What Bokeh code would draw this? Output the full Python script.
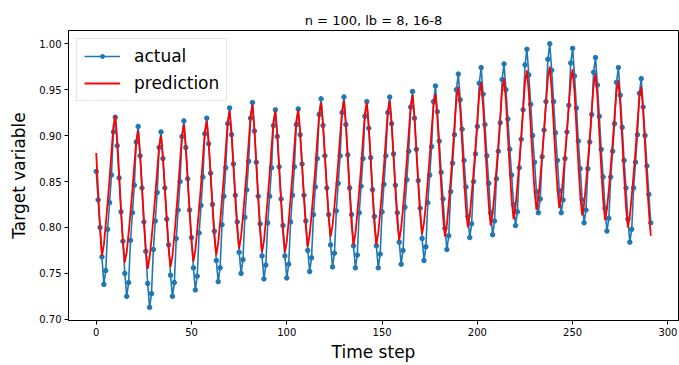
from bokeh.plotting import figure
from bokeh.models import Range1d, FixedTicker, PrintfTickFormatter
from bokeh.embed import file_html
from bokeh.resources import INLINE

title_text = "n = 100, lb = 8, 16-8"
x_label = "Time step"
y_label = "Target variable"
x_ticks = [0, 50, 100, 150, 200, 250, 300]
y_ticks = [0.70, 0.75, 0.80, 0.85, 0.90, 0.95, 1.00]

actual = [
    0.861, 0.830, 0.800, 0.768,
    0.738, 0.753, 0.798, 0.827, 0.857, 0.904, 0.920, 0.889, 0.854, 0.817, 0.785, 0.750,
    0.725, 0.740, 0.786, 0.816, 0.846, 0.893, 0.910, 0.878, 0.843, 0.806, 0.774, 0.739,
    0.713, 0.728, 0.776, 0.807, 0.838, 0.887, 0.904, 0.875, 0.843, 0.809, 0.781, 0.748,
    0.725, 0.740, 0.788, 0.819, 0.850, 0.899, 0.916, 0.887, 0.853, 0.819, 0.789, 0.756,
    0.732, 0.747, 0.794, 0.824, 0.855, 0.902, 0.919, 0.891, 0.859, 0.825, 0.796, 0.764,
    0.741, 0.756, 0.803, 0.834, 0.865, 0.913, 0.930, 0.901, 0.869, 0.835, 0.806, 0.773,
    0.750, 0.765, 0.811, 0.841, 0.872, 0.919, 0.936, 0.905, 0.871, 0.834, 0.804, 0.769,
    0.744, 0.759, 0.805, 0.834, 0.865, 0.911, 0.928, 0.899, 0.866, 0.831, 0.802, 0.769,
    0.745, 0.760, 0.806, 0.835, 0.866, 0.912, 0.929, 0.901, 0.869, 0.835, 0.807, 0.775,
    0.752, 0.767, 0.814, 0.844, 0.875, 0.923, 0.940, 0.911, 0.878, 0.843, 0.814, 0.781,
    0.757, 0.772, 0.818, 0.848, 0.878, 0.925, 0.942, 0.912, 0.879, 0.843, 0.814, 0.780,
    0.756, 0.770, 0.816, 0.845, 0.875, 0.921, 0.937, 0.908, 0.876, 0.841, 0.812, 0.780,
    0.756, 0.771, 0.817, 0.847, 0.878, 0.925, 0.942, 0.913, 0.880, 0.846, 0.816, 0.784,
    0.760, 0.775, 0.822, 0.852, 0.883, 0.931, 0.948, 0.919, 0.885, 0.851, 0.821, 0.788,
    0.764, 0.779, 0.827, 0.857, 0.888, 0.937, 0.954, 0.926, 0.894, 0.860, 0.831, 0.799,
    0.776, 0.791, 0.839, 0.870, 0.901, 0.950, 0.967, 0.939, 0.907, 0.873, 0.844, 0.812,
    0.789, 0.804, 0.850, 0.880, 0.910, 0.957, 0.974, 0.945, 0.912, 0.878, 0.848, 0.816,
    0.792, 0.807, 0.853, 0.883, 0.914, 0.961, 0.978, 0.950, 0.918, 0.885, 0.857, 0.825,
    0.802, 0.817, 0.865, 0.896, 0.928, 0.977, 0.994, 0.966, 0.934, 0.900, 0.871, 0.839,
    0.816, 0.831, 0.877, 0.906, 0.937, 0.983, 1.000, 0.971, 0.937, 0.903, 0.873, 0.840,
    0.816, 0.830, 0.875, 0.904, 0.933, 0.979, 0.995, 0.965, 0.930, 0.894, 0.864, 0.830,
    0.805, 0.819, 0.864, 0.893, 0.923, 0.969, 0.985, 0.955, 0.921, 0.885, 0.855, 0.821,
    0.796, 0.810, 0.855, 0.883, 0.913, 0.958, 0.974, 0.944, 0.909, 0.873, 0.843, 0.809,
    0.784, 0.798, 0.843, 0.871, 0.901, 0.946, 0.962, 0.931, 0.900, 0.867, 0.836, 0.805,
]

prediction = [
    0.881, 0.838, 0.800, 0.769,
    0.781, 0.803, 0.827, 0.853, 0.882, 0.910, 0.922, 0.896, 0.858, 0.820, 0.784, 0.762,
    0.773, 0.794, 0.816, 0.841, 0.868, 0.894, 0.905, 0.881, 0.845, 0.809, 0.776, 0.755,
    0.767, 0.787, 0.810, 0.835, 0.862, 0.888, 0.900, 0.877, 0.843, 0.809, 0.777, 0.757,
    0.769, 0.791, 0.816, 0.842, 0.872, 0.900, 0.912, 0.888, 0.852, 0.817, 0.784, 0.763,
    0.775, 0.797, 0.821, 0.847, 0.876, 0.904, 0.916, 0.893, 0.858, 0.823, 0.790, 0.770,
    0.783, 0.805, 0.830, 0.856, 0.886, 0.914, 0.927, 0.903, 0.867, 0.831, 0.798, 0.777,
    0.790, 0.812, 0.837, 0.863, 0.893, 0.921, 0.934, 0.908, 0.870, 0.831, 0.796, 0.773,
    0.785, 0.807, 0.832, 0.858, 0.887, 0.915, 0.927, 0.902, 0.865, 0.828, 0.795, 0.773,
    0.785, 0.807, 0.832, 0.858, 0.888, 0.916, 0.928, 0.904, 0.868, 0.833, 0.800, 0.779,
    0.792, 0.814, 0.839, 0.865, 0.895, 0.923, 0.936, 0.913, 0.878, 0.843, 0.810, 0.790,
    0.802, 0.823, 0.846, 0.871, 0.900, 0.926, 0.938, 0.913, 0.875, 0.838, 0.803, 0.781,
    0.793, 0.815, 0.840, 0.866, 0.896, 0.924, 0.936, 0.911, 0.874, 0.837, 0.803, 0.781,
    0.794, 0.816, 0.841, 0.867, 0.897, 0.925, 0.938, 0.914, 0.877, 0.841, 0.807, 0.786,
    0.799, 0.821, 0.846, 0.873, 0.903, 0.931, 0.944, 0.920, 0.884, 0.847, 0.814, 0.793,
    0.805, 0.826, 0.851, 0.877, 0.906, 0.933, 0.945, 0.920, 0.883, 0.846, 0.812, 0.790,
    0.803, 0.826, 0.852, 0.880, 0.911, 0.940, 0.953, 0.929, 0.892, 0.855, 0.821, 0.800,
    0.813, 0.835, 0.860, 0.887, 0.917, 0.945, 0.958, 0.933, 0.896, 0.858, 0.824, 0.802,
    0.815, 0.837, 0.863, 0.890, 0.920, 0.949, 0.962, 0.938, 0.901, 0.864, 0.830, 0.809,
    0.822, 0.845, 0.871, 0.898, 0.929, 0.958, 0.971, 0.947, 0.910, 0.874, 0.840, 0.819,
    0.832, 0.853, 0.878, 0.905, 0.934, 0.963, 0.975, 0.950, 0.913, 0.876, 0.843, 0.821,
    0.833, 0.854, 0.878, 0.904, 0.933, 0.960, 0.972, 0.947, 0.908, 0.870, 0.835, 0.813,
    0.825, 0.847, 0.872, 0.898, 0.927, 0.955, 0.967, 0.942, 0.903, 0.865, 0.830, 0.808,
    0.820, 0.841, 0.866, 0.892, 0.921, 0.948, 0.960, 0.934, 0.896, 0.858, 0.822, 0.800,
    0.812, 0.834, 0.858, 0.884, 0.913, 0.941, 0.953, 0.927, 0.889, 0.851, 0.818, 0.791,
]

time_step = list(range(len(actual)))

FONT = "DejaVu Sans"

p = figure(
    width=679, height=365,
    x_range=Range1d(-14.55, 305.55),
    y_range=Range1d(0.6987, 1.0144),
    output_backend="svg", toolbar_location=None,
    min_border_left=68, min_border_right=1, min_border_top=30, min_border_bottom=45,
    title=title_text,
)

p.title.align = "center"
p.title.text_font = FONT
p.title.text_font_size = "13px"
p.title.text_font_style = "normal"
p.title.text_color = "black"
p.title.standoff = 5

p.grid.visible = False
p.outline_line_color = "black"
p.outline_line_width = 1
p.background_fill_color = "white"
p.border_fill_color = "white"

for ax in (p.xaxis[0], p.yaxis[0]):
    ax.axis_line_color = "black"
    ax.major_tick_line_color = "black"
    ax.major_tick_out = 4
    ax.major_tick_in = 0
    ax.minor_tick_line_color = None
    ax.major_label_text_font = FONT
    ax.major_label_text_font_size = "10px"
    ax.major_label_text_color = "black"
    ax.axis_label_text_font = FONT
    ax.axis_label_text_font_size = "17px"
    ax.axis_label_text_font_style = "normal"
    ax.axis_label_text_color = "black"
    ax.major_label_standoff = 3

p.xaxis.axis_label = x_label
p.yaxis.axis_label = y_label
p.xaxis.axis_label_standoff = 3
p.yaxis.axis_label_standoff = 7
p.xaxis.ticker = FixedTicker(ticks=x_ticks)
p.yaxis.ticker = FixedTicker(ticks=y_ticks)
p.yaxis.formatter = PrintfTickFormatter(format="%.2f")

blue = "#1f77b4"
p.line(time_step, actual, line_color=blue, line_width=1.6, legend_label="actual")
p.scatter(time_step, actual, marker="circle", size=4.5, fill_color=blue, line_color=blue,
          legend_label="actual")
p.line(time_step, prediction, line_color="red", line_width=1.8, legend_label="prediction")

lg = p.legend[0]
lg.location = "top_left"
lg.margin = 8
lg.padding = 7
lg.spacing = 7
lg.glyph_width = 36
lg.glyph_height = 10
lg.label_height = 18
lg.label_standoff = 14
lg.label_text_font = FONT
lg.label_text_font_size = "17px"
lg.label_text_color = "black"
lg.border_line_color = "#cccccc"
lg.border_line_width = 1
lg.background_fill_color = "white"
lg.background_fill_alpha = 0.8

open("out.html", "w").write(file_html(p, INLINE))
